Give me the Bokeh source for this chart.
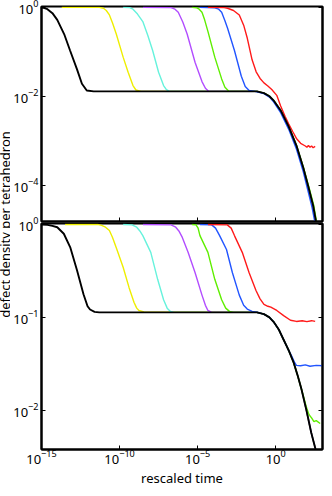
import numpy as np
from bokeh.plotting import figure
from bokeh.models import Range1d, FixedTicker, LogAxis, Label, Title
from bokeh.layouts import row, column
from bokeh.embed import file_html
from bokeh.resources import INLINE

FONT = "Noto Sans"

# ---- data: (log10 rescaled time, log10 defect density) ----
x_ticks = [1e-15, 1e-10, 1e-5, 1.0]
top_y_ticks = [1e-4, 1e-2, 1.0]
bot_y_ticks = [1e-2, 1e-1, 1.0]
x_title = "rescaled time"
y_title = "defect density per tetrahedron"

top_tail = [(-1.2, -1.89), (-0.75, -1.93), (-0.4, -2.0), (-0.12, -2.10), (0.32, -2.32),
            (0.83, -2.68), (1.33, -3.11), (1.77, -3.61), (2.09, -4.03), (2.40, -4.46),
            (2.59, -4.83), (2.63, -4.95)]
top_black_head = [(-15.0, -0.005), (-14.8, -0.015), (-14.62, -0.04), (-14.3, -0.13), (-13.99, -0.28),
                  (-13.55, -0.60), (-13.17, -0.97), (-12.73, -1.39), (-12.41, -1.72),
                  (-12.10, -1.87), (-11.66, -1.89)]
top_yellow_head = [(-13.7, 0.0), (-11.3, 0.0), (-11.03, -0.02), (-10.85, -0.07), (-10.65, -0.17),
                   (-10.45, -0.35), (-10.21, -0.60), (-9.77, -1.12), (-9.45, -1.46),
                   (-9.14, -1.76), (-8.95, -1.86), (-8.63, -1.89)]
top_cyan_head = [(-9.77, 0.0), (-9.35, -0.005), (-9.14, -0.04), (-8.85, -0.15), (-8.51, -0.32),
                 (-8.2, -0.62), (-7.88, -0.97), (-7.50, -1.46), (-7.18, -1.76), (-7.0, -1.85),
                 (-6.8, -1.89)]
top_purple_head = [(-8.5, 0.0), (-6.7, -0.005), (-6.45, -0.04), (-6.24, -0.11), (-5.95, -0.33),
                   (-5.67, -0.60), (-5.16, -1.24), (-4.72, -1.67), (-4.5, -1.82), (-4.3, -1.89)]
top_green = [(-5.35, 0.0), (-5.05, -0.01), (-4.9, -0.04), (-4.72, -0.11), (-4.55, -0.28),
             (-4.34, -0.54), (-3.90, -1.12), (-3.46, -1.61), (-3.25, -1.80), (-3.0, -1.89),
             (-1.2, -1.89), (-0.75, -1.93), (-0.4, -2.0), (-0.12, -2.10), (0.32, -2.32),
             (0.83, -2.68), (1.33, -3.10), (1.77, -3.59), (2.12, -4.03), (2.44, -4.46),
             (2.62, -4.83), (2.66, -4.95)]
top_blue = [(-4.85, 0.0), (-3.9, -0.01), (-3.65, -0.04), (-3.46, -0.11), (-3.25, -0.30),
            (-3.08, -0.47), (-2.64, -0.97), (-2.20, -1.55), (-1.95, -1.78), (-1.70, -1.87),
            (-1.4, -1.885), (-0.75, -1.94), (-0.4, -2.02), (-0.12, -2.13), (0.32, -2.37),
            (0.83, -2.74), (1.33, -3.19), (1.77, -3.70), (2.05, -4.10), (2.33, -4.50),
            (2.52, -4.85), (2.55, -4.95)]
top_red = [(-4.34, 0.0), (-3.3, -0.005), (-3.08, -0.02), (-2.7, -0.07), (-2.33, -0.17),
           (-2.05, -0.40), (-1.82, -0.69), (-1.51, -1.18), (-1.25, -1.45), (-1.0, -1.60),
           (-0.75, -1.70), (-0.5, -1.77), (-0.25, -1.85), (0.07, -1.98), (0.32, -2.22),
           (0.6, -2.45), (0.83, -2.62), (1.1, -2.80), (1.33, -2.95), (1.6, -3.06),
           (1.9, -3.12), (2.0, -3.15), (2.1, -3.11), (2.2, -3.15), (2.3, -3.12),
           (2.4, -3.16), (2.53, -3.13)]

bot_tail = [(-1.2, -0.946), (-0.75, -0.965), (-0.4, -1.0), (-0.12, -1.05), (0.2, -1.13),
            (0.51, -1.24), (0.85, -1.36), (1.14, -1.48), (1.4, -1.62), (1.65, -1.77),
            (1.96, -1.99), (2.28, -2.24), (2.53, -2.40), (2.58, -2.45)]
bot_black_head = [(-15.0, -0.002), (-14.62, -0.005), (-14.3, -0.015), (-13.99, -0.03),
                  (-13.57, -0.10), (-13.15, -0.25), (-12.73, -0.49), (-12.31, -0.75),
                  (-12.05, -0.88), (-11.89, -0.915), (-11.6, -0.94), (-11.3, -0.946)]
bot_yellow_head = [(-13.49, 0.0), (-11.4, 0.0), (-11.15, -0.01), (-10.9, -0.03), (-10.65, -0.065),
                   (-10.45, -0.14), (-10.21, -0.25), (-9.77, -0.46), (-9.39, -0.68),
                   (-9.07, -0.84), (-8.9, -0.90), (-8.76, -0.925), (-8.44, -0.94)]
bot_cyan_head = [(-9.77, 0.0), (-9.2, -0.005), (-8.9, -0.03), (-8.7, -0.07), (-8.51, -0.12),
                 (-8.0, -0.30), (-7.56, -0.59), (-7.18, -0.81), (-6.95, -0.90), (-6.74, -0.935),
                 (-6.5, -0.946)]
bot_purple_head = [(-8.5, 0.0), (-6.7, -0.005), (-6.4, -0.03), (-6.2, -0.07), (-5.98, -0.14),
                   (-5.61, -0.30), (-5.16, -0.52), (-4.72, -0.76), (-4.5, -0.87), (-4.34, -0.925),
                   (-4.1, -0.946)]
bot_green = [(-5.35, 0.0), (-5.1, -0.005), (-4.97, -0.04), (-4.85, -0.12), (-4.34, -0.30),
             (-3.90, -0.59), (-3.46, -0.81), (-3.2, -0.90), (-2.96, -0.935), (-2.7, -0.946),
             (-1.2, -0.946), (-0.75, -0.965), (-0.4, -1.0), (-0.12, -1.05), (0.2, -1.13),
             (0.51, -1.24), (0.85, -1.36), (1.14, -1.48), (1.4, -1.62), (1.65, -1.77),
             (1.96, -1.96), (2.1, -2.03), (2.2, -2.06), (2.3, -2.08), (2.45, -2.12),
             (2.6, -2.11), (2.85, -2.14)]
bot_blue = [(-4.85, 0.0), (-4.1, -0.005), (-3.85, -0.04), (-3.59, -0.12), (-3.15, -0.27),
            (-2.77, -0.52), (-2.33, -0.76), (-2.05, -0.87), (-1.82, -0.91), (-1.51, -0.935),
            (-1.2, -0.944), (-0.75, -0.965), (-0.4, -1.0), (-0.12, -1.05), (0.2, -1.13),
            (0.51, -1.24), (0.85, -1.36), (1.01, -1.41), (1.2, -1.48), (1.33, -1.515),
            (1.6, -1.52), (1.9, -1.51), (2.2, -1.525), (2.6, -1.515), (3.0, -1.52)]
bot_red = [(-4.34, 0.0), (-3.1, -0.005), (-2.85, -0.04), (-2.64, -0.12), (-2.14, -0.30),
           (-1.70, -0.52), (-1.26, -0.71), (-1.0, -0.80), (-0.75, -0.86), (-0.5, -0.88),
           (-0.31, -0.89), (0.07, -0.925), (0.51, -0.98), (0.95, -1.03), (1.33, -1.043),
           (1.7, -1.035), (2.0, -1.045), (2.3, -1.035), (2.53, -1.043)]

COLORS = {"yellow": "#eeee00", "cyan": "#66f2dc", "purple": "#b24dff", "green": "#5fee00",
          "blue": "#2255ff", "red": "#ff1a1a", "black": "#000000"}

top_series = [("yellow", top_yellow_head + top_tail), ("cyan", top_cyan_head + top_tail),
              ("purple", top_purple_head + top_tail), ("green", top_green),
              ("blue", top_blue), ("red", top_red), ("black", top_black_head + top_tail)]
bot_series = [("yellow", bot_yellow_head + bot_tail), ("cyan", bot_cyan_head + bot_tail),
              ("purple", bot_purple_head + bot_tail), ("green", bot_green),
              ("blue", bot_blue), ("red", bot_red), ("black", bot_black_head + bot_tail)]

# page layout (the root is pulled over the 8px body margin so the chart fills the window)
W_LABEL = 18
W_MAIN = 314
H_TOP = 233
H_BOT = 275
OVERLAP = 12
H_TOTAL = H_TOP + H_BOT - OVERLAP


def make_panel(series, y_lo, y_hi, yticks, height, show_x, mb_top, mb_bottom):
    p = figure(width=W_MAIN, height=height, x_axis_type="log", y_axis_type="log",
               x_range=Range1d(1e-15, 1e3), y_range=Range1d(y_lo, y_hi),
               output_backend="svg", toolbar_location=None,
               min_border_left=26, min_border_right=2,
               min_border_top=mb_top, min_border_bottom=mb_bottom)
    p.grid.visible = False
    p.outline_line_color = "black"
    p.outline_line_width = 2
    p.border_fill_color = None
    for name, pts in series:
        arr = np.array(pts)
        p.line(10 ** arr[:, 0], 10 ** arr[:, 1], line_color=COLORS[name],
               line_width=1.9 if name == "black" else 1.4)
    xa = p.xaxis[0]
    xa.ticker = FixedTicker(ticks=x_ticks, minor_ticks=[])
    ya = p.yaxis[0]
    ya.ticker = FixedTicker(ticks=yticks, minor_ticks=[])
    for ax in (xa, ya):
        ax.major_tick_in = 4
        ax.major_tick_out = 0
        ax.minor_tick_in = 0
        ax.minor_tick_out = 0
        ax.axis_line_width = 2
        ax.major_tick_line_width = 1
        ax.major_label_text_font = FONT
        ax.major_label_text_font_size = "13px"
        ax.major_label_text_color = "black"
    ya.major_label_standoff = 3
    if show_x:
        xa.major_label_standoff = 0
        t = Title(text=x_title, align="center", text_font=FONT, text_font_size="13px",
                  text_font_style="normal", text_color="black", standoff=0, offset=0)
        p.add_layout(t, "below")
    else:
        xa.major_label_text_font_size = "2px"
        xa.major_label_text_color = None
        xa.major_label_standoff = 0
    ra = LogAxis(ticker=FixedTicker(ticks=yticks, minor_ticks=[]),
                 major_tick_in=4, major_tick_out=0, minor_tick_in=0, minor_tick_out=0,
                 axis_line_width=2, major_label_text_font_size="2px",
                 major_label_text_color=None, major_label_standoff=0)
    p.add_layout(ra, "right")
    return p


top = make_panel(top_series, 10 ** -4.82, 10 ** 0.02, top_y_ticks, H_TOP, False, 14, 4)
bot = make_panel(bot_series, 10 ** -2.42, 10 ** 0.01, bot_y_ticks, H_BOT, True, 10, 39)
bot.margin = (-OVERLAP, 0, 0, 0)

lab = figure(width=W_LABEL, height=H_TOTAL, x_range=Range1d(0, W_LABEL), y_range=Range1d(0, H_TOTAL),
             output_backend="svg", toolbar_location=None, min_border=0)
lab.axis.visible = False
lab.grid.visible = False
lab.outline_line_color = None
lab.add_layout(Label(x=12, y=H_TOTAL - 232, text=y_title, angle=np.pi / 2,
                     text_align="center", text_baseline="middle", text_font=FONT,
                     text_font_size="13px", text_color="black"))

layout = row(lab, column(top, bot), margin=(-8, -8, -8, -8))
open("out.html", "w").write(file_html(layout, INLINE))
